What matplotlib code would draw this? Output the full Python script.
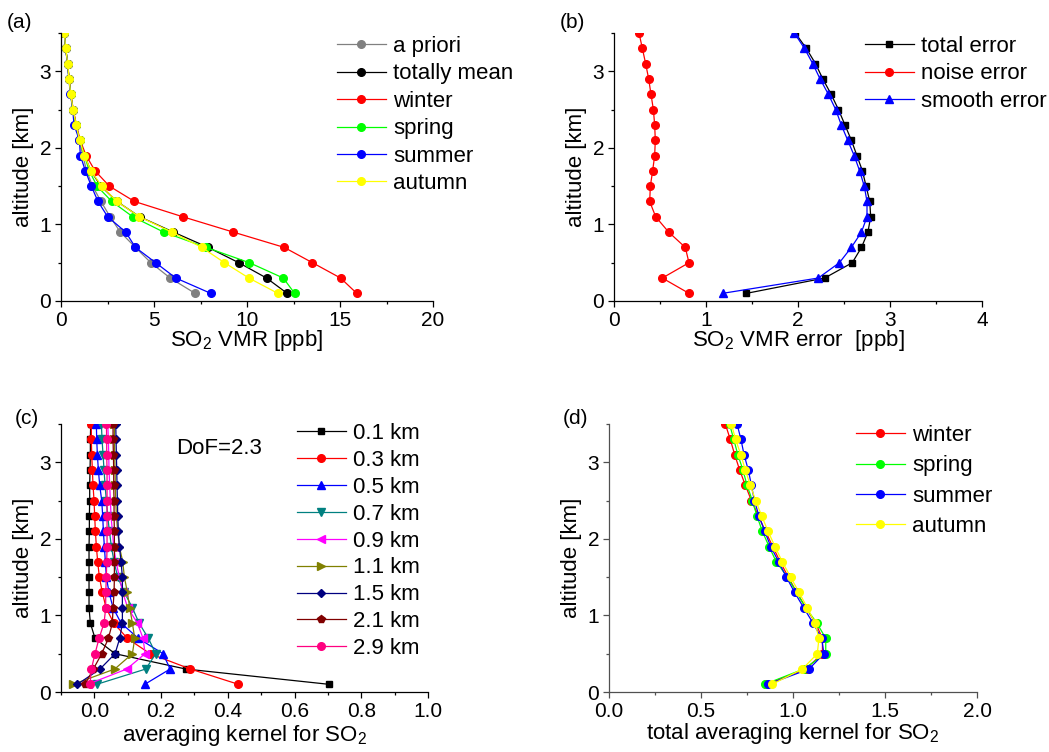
import numpy as np
import matplotlib
matplotlib.use("Agg")
import matplotlib.pyplot as plt
from matplotlib.ticker import MultipleLocator

plt.rcParams['font.family'] = ['Liberation Sans', 'DejaVu Sans']
plt.rcParams['font.size'] = 15
plt.rcParams['mathtext.fontset'] = 'custom'
plt.rcParams['mathtext.rm'] = 'Liberation Sans'
plt.rcParams['mathtext.default'] = 'regular'

# altitude grid (km), bottom to top
altitude = [0.1, 0.3, 0.5, 0.7, 0.9, 1.1, 1.3, 1.5, 1.7, 1.9,
            2.1, 2.3, 2.5, 2.7, 2.9, 3.1, 3.3, 3.5]

# (a) SO2 VMR profiles [ppb]
vmr_apriori = [7.21, 5.87, 4.83, 4.0, 3.19, 2.64, 2.15, 1.70, 1.38, 1.17,
               0.98, 0.78, 0.64, 0.52, 0.43, 0.35, 0.25, 0.18]
vmr_mean = [12.16, 11.05, 9.56, 7.91, 6.04, 4.23, 3.01, 2.15, 1.60, 1.27,
            1.0, 0.81, 0.65, 0.52, 0.43, 0.36, 0.25, 0.18]
vmr_winter = [15.9, 15.03, 13.52, 12.0, 9.26, 6.55, 3.95, 2.60, 1.83, 1.35,
              1.03, 0.83, 0.66, 0.53, 0.44, 0.36, 0.25, 0.18]
vmr_spring = [12.56, 11.95, 10.13, 7.80, 5.52, 3.86, 2.73, 1.94, 1.52, 1.26,
              1.0, 0.80, 0.64, 0.52, 0.43, 0.36, 0.25, 0.18]
vmr_summer = [8.05, 6.17, 5.09, 4.0, 3.48, 2.51, 1.99, 1.63, 1.31, 1.04,
              0.99, 0.70, 0.63, 0.51, 0.42, 0.35, 0.25, 0.18]
vmr_autumn = [11.66, 10.1, 8.79, 7.57, 5.96, 4.22, 3.0, 2.19, 1.61, 1.26,
              1.0, 0.81, 0.65, 0.52, 0.43, 0.36, 0.25, 0.18]

# (b) errors [ppb]
err_total = [1.44, 2.29, 2.59, 2.69, 2.76, 2.79, 2.78, 2.74, 2.70, 2.64,
             2.58, 2.51, 2.44, 2.36, 2.27, 2.19, 2.09, 1.97]
err_noise = [0.815, 0.525, 0.815, 0.775, 0.594, 0.453, 0.388, 0.395, 0.42, 0.442,
             0.449, 0.442, 0.428, 0.402, 0.377, 0.344, 0.308, 0.272]
err_smooth = [1.18, 2.22, 2.45, 2.58, 2.69, 2.75, 2.75, 2.72, 2.67, 2.61,
              2.54, 2.47, 2.41, 2.33, 2.24, 2.16, 2.07, 1.96]

# (c) averaging kernel rows
ak_labels = ['0.1 km', '0.3 km', '0.5 km', '0.7 km', '0.9 km',
             '1.1 km', '1.5 km', '2.1 km', '2.9 km']
ak_01 = [0.704, 0.274, 0.062, 0.002, -0.012, -0.016, -0.016, -0.016, -0.016, -0.016,
         -0.015, -0.015, -0.014, -0.014, -0.013, -0.012, -0.012, -0.011]
ak_03 = [0.432, 0.288, 0.167, 0.099, 0.058, 0.035, 0.024, 0.015, 0.010, 0.006,
         0.003, 0.001, -0.001, -0.004, -0.006, -0.008, -0.009, -0.009]
ak_05 = [0.151, 0.227, 0.206, 0.132, 0.080, 0.056, 0.044, 0.036, 0.033, 0.030,
         0.027, 0.025, 0.022, 0.016, 0.012, 0.009, 0.007, 0.006]
ak_07 = [0.007, 0.154, 0.184, 0.162, 0.134, 0.114, 0.090, 0.070, 0.059, 0.051,
         0.045, 0.040, 0.036, 0.032, 0.029, 0.026, 0.023, 0.021]
ak_09 = [-0.020, 0.097, 0.152, 0.146, 0.129, 0.100, 0.085, 0.075, 0.065, 0.058,
         0.054, 0.050, 0.048, 0.046, 0.044, 0.043, 0.042, 0.040]
ak_11 = [-0.064, 0.061, 0.114, 0.121, 0.114, 0.106, 0.099, 0.090, 0.085, 0.075,
         0.070, 0.066, 0.064, 0.063, 0.062, 0.061, 0.060, 0.060]
ak_15 = [-0.051, 0.017, 0.062, 0.076, 0.084, 0.084, 0.084, 0.084, 0.080, 0.075,
         0.072, 0.070, 0.069, 0.068, 0.067, 0.066, 0.065, 0.064]
ak_21 = [-0.028, -0.003, 0.022, 0.042, 0.054, 0.056, 0.059, 0.060, 0.060, 0.060,
         0.060, 0.059, 0.059, 0.058, 0.058, 0.057, 0.056, 0.056]
ak_29 = [-0.013, -0.009, 0.002, 0.014, 0.029, 0.034, 0.034, 0.036, 0.037, 0.038,
         0.038, 0.038, 0.038, 0.038, 0.038, 0.037, 0.037, 0.036]
dof_text = 'DoF=2.3'

# (d) total averaging kernel per season
tak_winter = [0.855, 1.069, 1.16, 1.16, 1.123, 1.07, 1.02, 0.975, 0.93, 0.89,
              0.85, 0.812, 0.774, 0.741, 0.71, 0.683, 0.659, 0.632]
tak_spring = [0.846, 1.058, 1.178, 1.178, 1.13, 1.069, 1.02, 0.97, 0.909, 0.87,
              0.833, 0.804, 0.779, 0.75, 0.728, 0.70, 0.678, 0.655]
tak_summer = [0.864, 1.087, 1.168, 1.156, 1.109, 1.058, 1.009, 0.964, 0.922, 0.879,
              0.846, 0.815, 0.79, 0.774, 0.757, 0.734, 0.717, 0.696]
tak_autumn = [0.886, 1.051, 1.132, 1.141, 1.12, 1.078, 1.033, 0.987, 0.942, 0.902,
              0.864, 0.83, 0.797, 0.768, 0.741, 0.716, 0.688, 0.665]

W, H = 1049, 752
fig = plt.figure(figsize=(W / 100, H / 100), dpi=100)


def px_axes(x0, y0, x1, y1):
    return fig.add_axes([x0 / W, 1 - y1 / H, (x1 - x0) / W, (y1 - y0) / H])


def style_axes(ax, xmax_major, xminor, spine_color='black'):
    for s in ['top', 'right']:
        ax.spines[s].set_visible(False)
    for s in ['left', 'bottom']:
        ax.spines[s].set_linewidth(0.9)
        ax.spines[s].set_color(spine_color)
    ax.set_ylim(0, 3.5)
    ax.yaxis.set_major_locator(MultipleLocator(1))
    ax.yaxis.set_minor_locator(MultipleLocator(0.5))
    ax.xaxis.set_major_locator(MultipleLocator(xmax_major))
    ax.xaxis.set_minor_locator(MultipleLocator(xminor))
    ax.tick_params(which='major', direction='out', length=4, width=0.9, pad=3,
                   color=spine_color)
    ax.tick_params(which='minor', direction='out', length=2.5, width=0.9,
                   color=spine_color)
    ax.set_ylabel('altitude [km]', labelpad=4, fontsize=16)


def legend_at(ax, x, y, spacing=0.29):
    ax.legend(loc='upper left', bbox_to_anchor=(x / W, 1 - y / H),
              bbox_transform=fig.transFigure, frameon=False, borderpad=0,
              borderaxespad=0, handlelength=2.2, handletextpad=0.32,
              labelspacing=spacing, fontsize=16)


lw = 0.9
ms = 5.5

# (a)
ax = px_axes(61, 33, 433, 301)
ax.plot(vmr_apriori, altitude, '-o', color='#808080', lw=lw, ms=ms, label='a priori')
ax.plot(vmr_mean, altitude, '-o', color='black', lw=lw, ms=ms, label='totally mean')
ax.plot(vmr_winter, altitude, '-o', color='#FF0000', lw=lw, ms=ms, label='winter')
ax.plot(vmr_spring, altitude, '-o', color='#00FF00', lw=lw, ms=ms, label='spring')
ax.plot(vmr_summer, altitude, '-o', color='#0000FF', lw=lw, ms=ms, label='summer')
ax.plot(vmr_autumn, altitude, '-o', color='#FFFF00', lw=lw, ms=ms, label='autumn')
ax.set_xlim(0, 20)
style_axes(ax, 5, 2.5)
ax.set_xlabel('SO$_2$ VMR [ppb]', labelpad=-1, fontsize=16)
legend_at(ax, 337, 36)

# (b)
ax = px_axes(614, 33, 982, 301)
ax.plot(err_total, altitude, '-s', color='black', lw=lw, ms=5, label='total error')
ax.plot(err_noise, altitude, '-o', color='#FF0000', lw=lw, ms=ms, label='noise error')
ax.plot(err_smooth, altitude, '-^', color='#0000FF', lw=lw, ms=6, label='smooth error')
ax.set_xlim(0, 4)
style_axes(ax, 1, 0.5)
ax.set_xlabel('SO$_2$ VMR error  [ppb]', labelpad=-1, fontsize=16)
legend_at(ax, 865, 36)

# (c)
ax = px_axes(61, 424, 428, 692)
ak_rows = [ak_01, ak_03, ak_05, ak_07, ak_09, ak_11, ak_15, ak_21, ak_29]
ak_colors = ['black', '#FF0000', '#0000FF', '#008080', '#FF00FF',
             '#808000', '#000080', '#800000', '#FF0080']
ak_markers = ['s', 'o', '^', 'v', '<', '>', 'D', 'p', 'o']
ak_sizes = [5, 5.5, 6, 6, 6, 6, 4.5, 6, 5.5]
for row, lab, c, m, s in zip(ak_rows, ak_labels, ak_colors, ak_markers, ak_sizes):
    ax.plot(row, altitude, '-', marker=m, color=c, lw=lw, ms=s, label=lab)
ax.set_xlim(-0.1, 1.0)
style_axes(ax, 0.2, 0.1)
ax.set_xticks(np.arange(0, 1.01, 0.2))
ax.set_xticklabels(['0.0', '0.2', '0.4', '0.6', '0.8', '1.0'])
ax.set_xlabel('averaging kernel for SO$_2$', labelpad=2, fontsize=16)
ax.text(176 / W, 1 - 449 / H, dof_text, transform=fig.transFigure,
        ha='left', va='center', fontsize=16)
legend_at(ax, 297, 423, spacing=0.265)

# (d)
ax = px_axes(609, 424, 977, 692)
ax.plot(tak_winter, altitude, '-o', color='#FF0000', lw=lw, ms=ms, label='winter')
ax.plot(tak_spring, altitude, '-o', color='#00FF00', lw=lw, ms=ms, label='spring')
ax.plot(tak_summer, altitude, '-o', color='#0000FF', lw=lw, ms=ms, label='summer')
ax.plot(tak_autumn, altitude, '-o', color='#FFFF00', lw=lw, ms=ms, label='autumn')
ax.set_xlim(0, 2)
style_axes(ax, 0.5, 0.25, spine_color='#505050')
ax.set_xticks([0, 0.5, 1.0, 1.5, 2.0])
ax.set_xticklabels(['0.0', '0.5', '1.0', '1.5', '2.0'])
ax.set_xlabel('total averaging kernel for SO$_2$', labelpad=0, fontsize=16)
legend_at(ax, 856, 425, spacing=0.42)

# panel letters
for lab, x, y in [('(a)', 7, 23), ('(b)', 560, 23), ('(c)', 15, 418), ('(d)', 563, 418)]:
    fig.text(x / W, 1 - y / H, lab, ha='left', va='center', fontsize=15)

fig.savefig('out.png', dpi=100)
